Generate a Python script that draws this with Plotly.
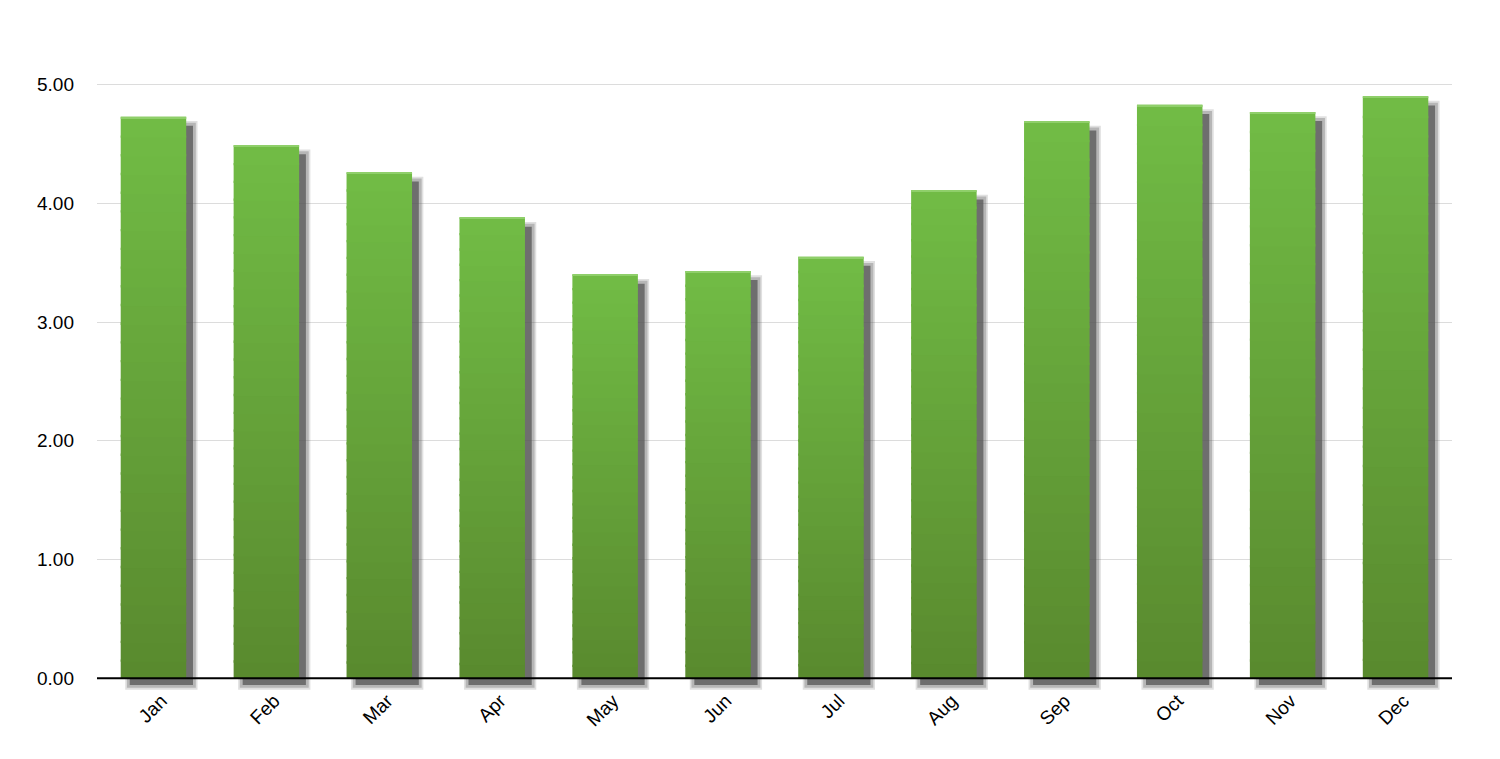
import plotly.graph_objects as go

months = ["Jan", "Feb", "Mar", "Apr", "May", "Jun", "Jul", "Aug", "Sep", "Oct", "Nov", "Dec"]
values = [4.73, 4.49, 4.26, 3.88, 3.40, 3.43, 3.55, 4.11, 4.69, 4.83, 4.77, 4.90]
y_ticks = [0, 1, 2, 3, 4, 5]

bar_w = 0.58
shadow_dx = 0.07    # ~8px to the right
shadow_dy = 0.067   # ~8px down
n_steps = 30
overlap = 0.02      # slices overlap a little so no seams show
bottom_rgb = (89, 137, 46)
top_rgb = (113, 188, 69)

fig = go.Figure()

# soft drop shadow: a few layers, widest and faintest first
for grow, alpha in [(0.03, 0.18), (0.015, 0.3), (-0.01, 0.75)]:
    fig.add_trace(go.Bar(x=months, y=[v + 2 * grow for v in values],
                         base=-shadow_dy - grow,
                         width=bar_w + 2 * grow, offset=-bar_w / 2 + shadow_dx - grow,
                         marker=dict(color="rgba(85,85,85,%s)" % alpha, line_width=0),
                         hoverinfo="skip"))

# vertical gradient, built from stacked slices of each bar
for k in range(n_steps):
    t = (k + 0.5) / n_steps
    c = tuple(round(b + (a - b) * t) for a, b in zip(top_rgb, bottom_rgb))
    ext = overlap if k > 0 else 0
    fig.add_trace(go.Bar(x=months, y=[v / n_steps + ext for v in values],
                         base=[v * k / n_steps - ext for v in values],
                         width=bar_w, offset=-bar_w / 2,
                         marker=dict(color="rgb(%d,%d,%d)" % c, line_width=0),
                         hoverinfo="skip"))

# thin highlight on the top edge
fig.add_trace(go.Bar(x=months, y=[0.012] * len(values), base=[v - 0.012 for v in values],
                     width=bar_w, offset=-bar_w / 2,
                     marker=dict(color="#8fcf6a", line_width=0), hoverinfo="skip"))

fig.add_shape(type="line", xref="paper", x0=0, x1=1, yref="y", y0=0, y1=0,
              line=dict(color="black", width=2), layer="above")

fig.update_layout(
    width=1500, height=759,
    margin=dict(l=89, r=56, t=41, b=77, autoexpand=False),
    barmode="overlay",
    showlegend=False,
    plot_bgcolor="white",
    paper_bgcolor="white",
    font=dict(family="Liberation Sans, Arial, sans-serif", size=19, color="black"),
    xaxis=dict(range=[-0.5, 11.5], tickangle=-45, showgrid=False, showline=False,
               ticks="", ticklabelshift=8, ticklabelstandoff=-5,
               tickfont=dict(size=19)),
    yaxis=dict(range=[-0.1, 5.3], tickvals=y_ticks, tickformat=".2f",
               showgrid=True, gridcolor="#dcdcdc", gridwidth=1,
               zeroline=False, showline=False, ticks="", ticklabelstandoff=22,
               tickfont=dict(size=19)),
)

fig.write_html("out.html")
